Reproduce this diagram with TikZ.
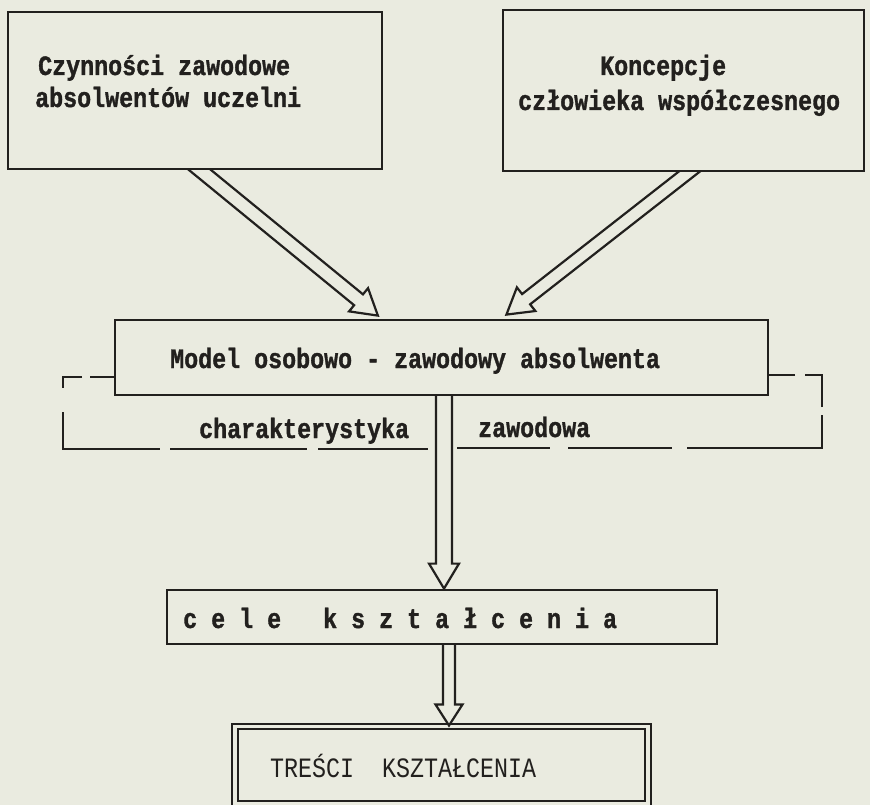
\documentclass[tikz,border=0pt]{standalone}
\usepackage{fontspec}
\usetikzlibrary{calc}
\newfontfamily\tw[FakeStretch=0.833, BoldFeatures={FakeBold=1.2}]{Liberation Mono}
\definecolor{paper}{RGB}{234,235,224}
\definecolor{ink}{RGB}{34,32,30}
\newcommand{\hollowarrow}[5]{% start, tip, shaft half-width, head half-width, head length
  \path ($(#2)!#5!(#1)$) coordinate (hb)
    ($(hb)!#3!90:(#2)$) coordinate (hl) ($(hb)!#3!-90:(#2)$) coordinate (hr)
    ($(#1)!#3!90:(#2)$) coordinate (sl0) ($(#1)!#3!-90:(#2)$) coordinate (sr0)
    ($(#1)+(10,0)$) coordinate (sh);
  \path (intersection of hl--sl0 and #1--sh) coordinate (sl)
        (intersection of hr--sr0 and #1--sh) coordinate (sr);
  \draw[arrowline] (sl) -- (hl) -- ($(hb)!#4!90:(#2)$) -- (#2)
    -- ($(hb)!#4!-90:(#2)$) -- (hr) -- (sr);
}
\tikzset{
  box/.style={draw=ink, line width=2.8pt, inner sep=0pt, rectangle},
  txt/.style={inner sep=0pt, text=ink, font=\tw\bfseries\fontsize{28}{30}\selectfont, anchor=base west},
  txtreg/.style={inner sep=0pt, text=ink, font=\tw\fontsize{28}{30}\selectfont, anchor=base west},
  arrowline/.style={draw=ink, line width=2.2pt, line join=miter},
  bracket/.style={draw=ink, line width=2.4pt, line cap=butt},
}
\begin{document}
\begin{tikzpicture}[x=1pt,y=-1pt]
\useasboundingbox (0,0) rectangle (870,805);
\fill[paper] (0,0) rectangle (870,805);

% boxes
\node[box, minimum width=374pt, minimum height=157pt] (box1) at (195,90.5) {};
\node[box, minimum width=361pt, minimum height=161pt] (box2) at (683.5,90.5) {};
\node[box, minimum width=653pt, minimum height=75pt] (model) at (441.5,357.5) {};
\node[box, minimum width=550pt, minimum height=54pt] (cele) at (442,617) {};
\node[draw=ink, line width=2pt, double=paper, double distance=3.4pt, inner sep=0pt,
      minimum width=413pt, minimum height=77pt] (tresci) at (441.5,765) {};

% texts
\node[txt] (t1a) at (38,75) {Czynności zawodowe};
\node[txt] (t1b) at (35,107) {absolwentów uczelni};
\node[txt] (t2a) at (600,75) {Koncepcje};
\node[txt] (t2b) at (518,110) {człowieka współczesnego};
\node[txt] (tm) at (170,368) {Model osobowo - zawodowy absolwenta};
\node[txt] (tc1) at (199,438) {charakterystyka};
\node[txt] (tc2) at (478,437) {zawodowa};
\node[txt] (tcele) at (183,628) {c e l e~~~k s z t a ł c e n i a};
\node[txtreg] (ttr) at (270,777) {TREŚCI~~KSZTAŁCENIA};

% dashed bracket around "charakterystyka zawodowa"
\draw[bracket] (115,377) -- (90,377);
\draw[bracket] (82,377) -- (63,377) -- (63,388);
\draw[bracket] (63,412) -- (63,449) -- (160,449);
\draw[bracket] (170,449) -- (307,449);
\draw[bracket] (318,449) -- (428,449);
\draw[bracket] (457,448) -- (550,448);
\draw[bracket] (568,448) -- (672,448);
\draw[bracket] (687,448) -- (822,448) -- (822,415);
\draw[bracket] (822,407) -- (822,375) -- (805,375);
\draw[bracket] (795,375) -- (768,375);

% arrow end points
\coordinate (a1s) at ($(box1.south west)!0.51!(box1.south east)+(0,-1.4)$);
\coordinate (a1t) at ($(model.north west)!0.403!(model.north east)+(0,-3)$);
\coordinate (a2s) at ($(box2.south west)!0.518!(box2.south east)+(0,-1.4)$);
\coordinate (a2t) at ($(model.north west)!0.599!(model.north east)+(0,-4)$);
\coordinate (a3s) at ($(model.south)+(2.5,-1.4)$);
\coordinate (a3t) at ($(cele.north)+(2,0)$);
\coordinate (a4s) at ($(cele.south)+(7,-1.4)$);
\coordinate (a4t) at ($(tresci.north)+(7.5,0)$);

\hollowarrow{a1s}{a1t}{7pt}{15pt}{25pt}
\hollowarrow{a2s}{a2t}{6.5pt}{15pt}{25pt}
\hollowarrow{a3s}{a3t}{8pt}{15pt}{25pt}
\hollowarrow{a4s}{a4t}{6pt}{13.5pt}{21pt}
\end{tikzpicture}
\end{document}
